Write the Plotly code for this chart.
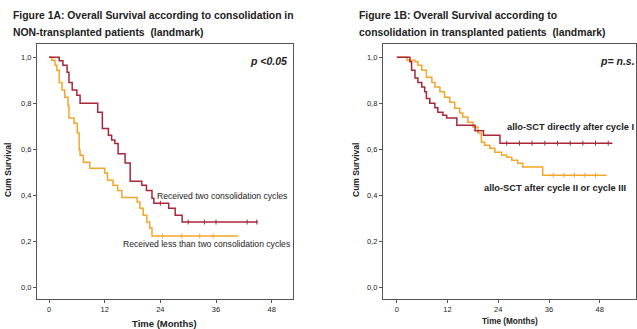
import plotly.graph_objects as go

# ---- Figure 1A: non-transplanted patients ----
a_two_t = [0, 2.2, 3.0, 3.9, 4.3, 5.0, 6.0, 6.7, 10.5, 11.5, 12.8, 13.5, 14.2, 14.9,
           16.4, 17.5, 20.0, 21.0, 22.2, 22.6, 25.8, 27.2, 28.7, 45.0]
a_two_s = [1.0, 0.985, 0.965, 0.935, 0.89, 0.857, 0.835, 0.80, 0.76, 0.69, 0.66, 0.64,
           0.625, 0.58, 0.54, 0.46, 0.443, 0.42, 0.387, 0.365, 0.343, 0.313, 0.283, 0.283]
a_two_cens_t = [24.0, 30.0, 33.5, 36.0, 42.7, 44.8]

a_less_t = [0, 0.6, 1.3, 1.7, 2.2, 2.8, 3.4, 4.1, 4.3, 5.4, 6.1, 6.5, 6.7, 7.4, 8.8,
            12.0, 12.6, 13.8, 14.8, 15.7, 19.0, 19.6, 20.3, 21.1, 21.7, 22.2, 40.8]
a_less_s = [1.0, 0.987, 0.965, 0.943, 0.89, 0.857, 0.826, 0.79, 0.735, 0.713, 0.67,
            0.596, 0.574, 0.543, 0.517, 0.496, 0.465, 0.443, 0.42, 0.39, 0.37, 0.343,
            0.313, 0.283, 0.257, 0.222, 0.222]
a_less_cens_t = [24.5, 28.6, 32.5, 35.4]

# ---- Figure 1B: transplanted patients ----
b_direct_t = [0, 3.1, 3.5, 4.3, 5.0, 5.9, 6.6, 7.0, 7.8, 9.0, 9.7, 10.9, 11.8, 14.2,
              18.5, 20.5, 24.4, 51.0]
b_direct_s = [1.0, 0.98, 0.943, 0.91, 0.89, 0.87, 0.85, 0.82, 0.80, 0.78, 0.76, 0.748,
              0.735, 0.704, 0.68, 0.66, 0.626, 0.626]
b_direct_cens_t = [26.0, 29.0, 32.0, 35.0, 38.0, 41.0, 44.0, 47.0, 50.0]

b_later_t = [0, 2.4, 4.3, 5.0, 5.9, 7.0, 8.3, 9.0, 10.2, 11.3, 12.5, 13.7, 14.9, 15.6,
             16.8, 18.0, 19.2, 20.0, 20.8, 22.0, 23.2, 24.8, 26.0, 27.2, 28.6, 29.8,
             34.5, 49.6]
b_later_s = [1.0, 0.987, 0.98, 0.965, 0.943, 0.913, 0.89, 0.87, 0.85, 0.826, 0.804,
             0.778, 0.757, 0.74, 0.717, 0.696, 0.67, 0.63, 0.617, 0.604, 0.587, 0.574,
             0.565, 0.552, 0.539, 0.522, 0.487, 0.487]
b_later_cens_t = [37.0, 39.5, 42.0, 44.5, 47.0]

x_ticks = [0, 12, 24, 36, 48]
y_ticks = [0.0, 0.2, 0.4, 0.6, 0.8, 1.0]
y_tick_text = ["0,0", "0,2", "0,4", "0,6", "0,8", "1,0"]

RED = "#a8283a"
ORANGE = "#f5a52a"
FRAME = "#555555"
TXT = "#222222"
FONT = "Liberation Sans"

fig = go.Figure()


def step_value(t, s, at):
    """Survival estimate of a step function at time `at`."""
    val = s[0]
    for ti, si in zip(t, s):
        if ti <= at:
            val = si
    return val


def km(t, s, cens, color, xa, ya):
    fig.add_trace(go.Scatter(x=t, y=s, mode="lines", line=dict(color=color, width=1.5, shape="hv"),
                             xaxis=xa, yaxis=ya, showlegend=False, hoverinfo="skip"))
    fig.add_trace(go.Scatter(x=cens, y=[step_value(t, s, c) for c in cens], mode="markers",
                             marker=dict(symbol="line-ns", size=3.5, line=dict(color=color, width=1)),
                             xaxis=xa, yaxis=ya, showlegend=False, hoverinfo="skip"))


km(a_less_t, a_less_s, a_less_cens_t, ORANGE, "x", "y")
km(a_two_t, a_two_s, a_two_cens_t, RED, "x", "y")
km(b_later_t, b_later_s, b_later_cens_t, ORANGE, "x2", "y2")
km(b_direct_t, b_direct_s, b_direct_cens_t, RED, "x2", "y2")

axis_common = dict(showline=True, linecolor=FRAME, linewidth=1, mirror=True, showgrid=False,
                   zeroline=False, ticks="outside", ticklen=3, tickcolor=FRAME,
                   tickfont=dict(family=FONT, size=7.5, color=TXT))

fig.update_layout(
    width=637, height=329,
    margin=dict(l=0, r=0, t=0, b=0),
    paper_bgcolor="white", plot_bgcolor="white",
    xaxis=dict(domain=[0.058, 0.46], range=[-2.6, 52.6], tickvals=x_ticks, anchor="y", **axis_common),
    yaxis=dict(domain=[0.091, 0.866], range=[-0.052, 1.057], tickvals=y_ticks,
               ticktext=y_tick_text, anchor="x", **axis_common),
    xaxis2=dict(domain=[0.601, 0.998], range=[-3.3, 56.5], tickvals=x_ticks, anchor="y2", **axis_common),
    yaxis2=dict(domain=[0.091, 0.866], range=[-0.052, 1.057], tickvals=y_ticks,
                ticktext=y_tick_text, anchor="x2", **axis_common),
)


def note(text, x, y, size, bold=False, italic=False, xanchor="left", angle=0):
    if bold:
        text = "<b>" + text + "</b>"
    if italic:
        text = "<i>" + text + "</i>"
    fig.add_annotation(text=text, x=x, y=y, xref="paper", yref="paper", xanchor=xanchor,
                       yanchor="middle", showarrow=False, textangle=angle,
                       font=dict(family=FONT, size=size, color=TXT))


W, H = 637.0, 329.0


def px(xp, yp):
    return xp / W, 1 - yp / H


# panel titles
note("Figure 1A: Overall Survival according to consolidation in", *px(11, 15), 10.4, bold=True)
note("NON-transplanted patients  (landmark)", *px(11, 32), 10.4, bold=True)
note("Figure 1B: Overall Survival according to", *px(357, 15), 10.4, bold=True)
note("consolidation in transplanted patients  (landmark)", *px(357, 32), 10.4, bold=True)

# p-values
note("p <0.05", *px(289, 61), 10.5, bold=True, italic=True, xanchor="right")
note("p= n.s.", *px(637, 61), 10.5, bold=True, italic=True, xanchor="right")

# axis titles
note("Cum Survival", *px(8, 170), 8.5, bold=True, xanchor="center", angle=-90)
note("Cum Survival", *px(356, 170), 8.5, bold=True, xanchor="center", angle=-90)
note("Time (Months)", *px(165, 323), 9.5, bold=True, xanchor="center")
note("Time (Months)", *px(510, 321), 8.2, bold=True, xanchor="center")

# curve labels
note("Received two consolidation cycles", *px(155, 196), 8.6)
note("Received less than two consolidation cycles", *px(121, 244), 8.6)
note("allo-SCT directly after cycle I", *px(505, 127), 9.3, bold=True)
note("allo-SCT after cycle II or cycle III", *px(482, 188), 9.3, bold=True)

fig.write_html("out.html")
